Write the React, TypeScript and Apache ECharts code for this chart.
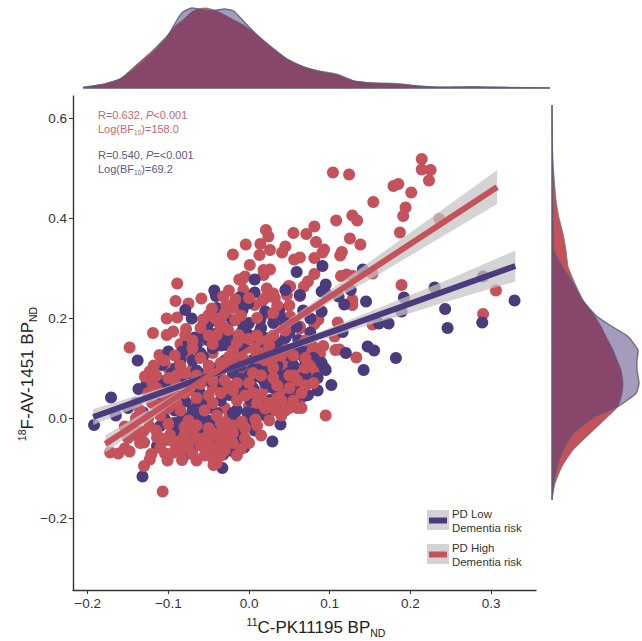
import React, { useEffect, useRef } from "react";
import * as echarts from "echarts";

const RED = "#C5525A";
const BLUE = "#4B3A7C";
const xTicks = [-0.2, -0.1, 0, 0.1, 0.2, 0.3];
const yTicks = [-0.2, 0, 0.2, 0.4, 0.6];

// PD High Dementia risk: points under the low-risk group
const highBack: number[][] = [
  [.104,.491],[.124,.487],[.214,.518],[.214,.497],[.225,.496],[.223,.475],[.179,.464],[.185,.468],[.201,.451],[.154,.432],
  [.194,.421],[.191,.404],[.187,.371],[.236,.398],[.108,.395],[.128,.405],[.134,.395],[.125,.359],[.138,.347],[.081,.383],
  [.071,.368],[.055,.37],[.083,.352],[.093,.337],[.091,.331],[.115,.332],[.113,.325],[.081,.32],[.063,.321],[.056,.317],
  [.114,.284],[.121,.287],[.129,.284],[.153,.289],[.081,.288],[.073,.273],[.068,.263],[.063,.245],[.051,.263],[.189,.266],
  [.306,.255],[.29,.208],[.128,.236],[.128,.226],[.11,.191],[.106,.163],[.153,.187],[.086,.197],[.081,.188],[.092,.144],
  [.088,.128],[.079,.143],[.078,.129],[.107,.136],[.112,.137],[.133,.121],[.08,.109],[.084,.101],[.063,.179],[.053,.109],
  [.059,.099],[.021,.376],[.024,.363],[-.004,.347],[.014,.348],[.013,.326],[.026,.336],[.045,.343],[.041,.331],[.001,.306],
  [.018,.296],[.026,.297],[.018,.286],[-.005,.283],[-.009,.276],[.022,.259],[.03,.249],[.032,.24],[.049,.264],[.047,.246],
  [.063,.244],[.016,.233],[.007,.226],[.024,.209],[-.007,.256],[.043,.189],[.051,.203],[-.003,.183],[.014,.176],[.063,.183],
  [-.02,.327],[-.089,.269],[-.091,.234],[-.075,.229],[-.059,.239],[-.102,.199],[-.089,.201],[-.119,.17],[-.102,.166],[-.094,.173],
  [-.012,.277],[-.148,.141],[-.111,.126],[.095,.005],[.064,.039],[.057,.053],[.074,.086],[.06,.097],[.049,.099],[.041,.113],
  [.053,.113],[.049,.069],[.036,.049],[-.06,.155],[-.03,.155],[.015,.15],[.04,.148],[-.085,.148],[-.075,.128],[-.045,.13],
  [-.01,.13],[.025,.128],[.06,.14],[-.1,.1],[-.07,.098],[-.035,.095],[-.005,.1],[.04,.095],[.065,.09],[-.105,.06],
  [-.075,.075],[-.045,.06],[-.01,.085],[.02,.06],[.045,.05],[-.105,.04],[-.07,.025],[-.03,.02],[0,.025],[.03,.015],
  [.06,.02],[-.125,0],[-.095,-.01],[-.06,-.005],[-.025,0],[.005,.005],
];

// PD Low Dementia risk
const lowScatter: number[][] = [
  [.091,.304],[.059,.292],[.141,.297],[.095,.267],[.09,.253],[.096,.248],[.126,.256],[.111,.243],[.118,.227],[.145,.233],
  [.192,.241],[.23,.261],[.189,.213],[.243,.218],[.246,.18],[.173,.189],[.161,.189],[.116,.172],[.29,.283],[.289,.191],
  [.329,.235],[.147,.143],[.155,.135],[.12,.13],[.182,.12],[.142,.096],[.094,.099],[.067,.215],[.076,.199],[.09,.213],
  [.059,.183],[.076,.171],[.061,.156],[.069,.119],[.059,.128],[.007,.277],[.007,.251],[.045,.256],[.063,.246],[-.009,.239],
  [-.001,.229],[-.008,.216],[.02,.213],[.038,.219],[.038,.206],[.014,.196],[-.007,.183],[-.001,.166],[.01,.166],[-.043,.255],
  [-.041,.244],[-.079,.216],[-.071,.199],[-.029,.205],[-.052,.179],[-.017,.226],[-.012,.241],[-.067,.161],[-.059,.163],[-.04,.169],
  [-.032,.161],[.095,.096],[.102,.066],[.078,.071],[.059,.079],[.038,.069],[.073,.046],[.057,.037],[.048,.029],[.026,.036],
  [.02,.031],[.033,.031],[.002,.035],[-.015,.016],[-.002,.011],[.01,.013],[.039,-.013],[.007,-.025],[.029,-.047],[-.013,-.036],
  [-.015,-.017],[-.006,-.059],[-.021,-.066],[-.032,-.073],[-.034,-.016],[-.036,-.044],[-.024,.046],[-.032,.066],[.018,.106],[.026,.089],
  [.018,.076],[.032,.083],[.005,.116],[.014,.096],[.01,.083],[-.011,.079],[-.017,.066],[-.007,.056],[.001,.069],[-.017,.139],
  [-.028,.146],[-.138,.115],[-.171,.041],[-.1,.133],[-.083,.133],[-.065,.146],[-.057,.123],[-.108,.106],[-.111,.075],[-.096,.089],
  [-.083,.086],[-.061,.089],[-.137,.058],[-.127,.069],[-.131,.011],[-.11,-.016],[-.092,.015],[-.081,-.001],[-.071,.006],[-.079,.033],
  [-.063,.033],[-.052,.036],[-.061,.051],[-.088,-.031],[-.071,-.041],[-.059,-.027],[-.04,-.021],[-.052,-.004],[-.114,-.056],[-.075,-.071],
  [-.069,-.057],[-.132,-.117],[-.192,-.014],[-.033,-.1],[-.06,.13],[-.045,.14],[-.03,.115],[-.015,.12],[-.035,.145],[-.005,.14],
  [.01,.15],[.03,.145],[.045,.16],[.02,.16],[0,.19],[.03,.19],[-.02,.195],[-.05,.19],[-.01,.17],[.065,.14],
  [.05,.125],[.035,.105],[.05,.09],[-.02,.09],[-.04,.1],[-.07,.07],[-.09,.05],[-.115,.03],[-.14,.03],[-.15,.02],
  [-.165,.005],[.03,.06],[.045,.07],[.015,.04],[-.035,.035],[-.06,.01],[-.045,-.01],[-.03,-.02],[0,-.01],[-.02,.01],
  [-.085,.012],[-.1,.025],[-.115,.055],[-.005,.065],[.005,.1],[.06,.06],[.07,.045],[.085,.08],[.09,.11],[.085,.055],
  [-.085,.115],[-.07,.115],[-.05,.155],[-.075,.15],[-.09,.1],[-.1,.06],[-.085,.07],[-.065,.095],[-.05,.075],[-.04,.08],
  [-.025,.105],[-.01,.105],[0,.085],[.01,.11],[.025,.12],[.04,.085],[.055,.105],[.07,.085],[.07,.11],[.08,.12],
  [.02,.07],[.005,.06],[-.015,.04],[-.03,.06],[-.05,.02],[-.07,.015],[-.09,-.01],[-.075,-.01],[-.06,-.04],[-.045,-.045],
  [-.03,-.035],[-.015,-.045],[-.08,-.05],[-.095,-.02],[-.105,0],[-.02,.16],[-.03,.18],[0,.165],[.015,.18],[.045,.19],
  [.02,.14],[-.04,.22],[.035,.15],[.05,.17],[-.06,-.01],[-.04,.01],[-.015,-.005],[.02,.005],[.035,.025],[.05,.04],
];

// PD High Dementia risk: points over the low-risk group
const highFront: number[][] = [
  [-.078,.178],[-.079,.166],[-.057,.197],[-.046,.219],[-.05,.206],[-.032,.243],[-.028,.226],[-.017,.237],[-.042,.199],[-.036,.186],
  [-.026,.176],[-.017,.196],[-.04,.166],[-.013,.166],[-.123,.093],[-.129,.083],[-.13,-.049],[-.154,-.017],[-.143,-.014],[-.145,-.027],
  [-.172,-.069],[-.162,-.071],[-.154,-.061],[-.148,-.067],[-.13,-.096],[-.121,-.072],[-.123,-.083],[-.104,-.071],[-.101,-.085],[-.107,-.147],
  [-.044,-.094],[-.083,-.084],[-.088,-.064],[-.114,-.039],[-.141,-.034],[-.131,-.027],[-.123,-.017],[-.098,-.034],[-.102,-.044],[-.094,-.047],
  [.032,.019],[.02,.019],[.008,-.003],[-.009,-.007],[-.026,-.021],[-.03,-.027],[-.036,-.041],[-.059,-.051],[-.046,-.064],[-.045,.148],
  [-.015,.15],[0,.158],[.03,.165],[-.07,.14],[-.092,.125],[-.06,.12],[-.025,.122],[.008,.135],[.045,.135],[.03,.12],
  [-.118,.105],[-.085,.105],[-.05,.105],[-.02,.108],[.02,.115],[.05,.085],[-.12,.07],[-.09,.065],[-.06,.068],[-.03,.075],
  [.005,.05],[.035,.065],[.07,.065],[-.12,.03],[-.09,.03],[-.045,.03],[-.015,.035],[.015,.045],[.045,.015],[-.135,.015],
  [-.11,.005],[-.1,-.012],[-.08,-.018],[-.04,.005],[-.01,-.01],[.025,-.005],[-.085,-.045],[-.07,-.025],[-.055,-.04],[-.045,-.03],
  [-.03,-.045],[-.02,-.03],[-.005,-.04],[.01,-.015],[.015,-.035],[-.075,-.06],[-.06,-.055],[-.05,-.065],[-.04,-.06],[-.03,-.052],
  [-.02,-.05],[-.045,-.08],[-.035,-.075],[-.09,-.055],[-.01,-.062],[-.065,-.085],[-.07,-.072],
  [-.105,.115],[-.115,.085],[-.1,.08],[-.08,.09],[-.065,.085],[-.05,.09],[-.035,.11],[-.02,.135],[-.005,.115],[.01,.12],
  [.025,.145],[.04,.125],[.055,.125],[.07,.12],[.075,.105],[.06,.075],[.05,.06],[.04,.035],[.055,.035],[.065,.02],
  [.04,.005],[.025,.03],[.01,.03],[-.005,.045],[-.02,.055],[-.035,.05],[-.05,.045],[-.065,.04],[-.08,.05],[-.095,.045],
  [-.11,.025],[-.125,.05],[-.14,0],[-.15,-.04],[-.135,-.05],[-.115,-.025],[-.11,-.06],[-.095,-.07],[-.08,-.035],[-.065,-.015],
  [-.05,-.02],[-.035,-.01],[-.02,-.015],[-.005,-.02],[0,-.05],[-.015,-.075],[-.03,-.065],[-.05,-.05],[-.065,-.04],[-.075,-.05],
  [-.085,-.07],[-.055,-.075],[-.04,-.09],[-.025,.06],[0,.07],[.015,.085],[.03,.1],[.015,.13],[-.01,.16],[-.03,.18],
  [-.05,.165],[-.07,.155],[-.06,.18],[-.035,.2],[-.01,.205],[.01,.2],[.03,.21],[.045,.175],[.07,.155],[-.02,.22],
  [0,.24],[.02,.24],[.035,.225],[.05,.225],[-.025,.255],[-.03,.21],
  [.07,.1],[.055,.085],[.08,.07],[.065,.05],[.05,.02],[.035,.04],[-.015,.07],[-.045,.075],[-.075,.055],[-.1,.02],
  [-.085,.015],[-.055,.015],[-.035,-.03],[-.075,-.005],[-.11,-.04],[.005,.09],[.03,.08],[-.115,.06],[-.09,.085],[.01,.165],
];

const highLine = [[-.178, -.052], [.3075, .462]];
const lowLine = [[-.193, .002], [.33, .304]];

const highBandX = [-.178, -.1, -.05, 0, .05, .1, .15, .2, .25, .3075];
const highBandUpper = [-.035, .04, .091, .143, .198, .255, .313, .371, .429, .496];
const highBandLower = [-.069, .022, .077, .131, .182, .231, .277, .325, .373, .428];
const lowBandX = [-.193, -.1, -.05, 0, .05, .1, .15, .2, .25, .33];
const lowBandUpper = [.018, .064, .091, .119, .149, .18, .213, .246, .279, .335];
const lowBandLower = [-.014, .046, .077, .107, .135, .162, .187, .21, .235, .273];

// marginal densities along x
const topX = [-.205, -.181, -.16, -.14, -.119, -.102, -.09, -.082, -.071, -.063, -.053, -.04, -.03, -.019, -.007, .01, .026, .047, .068, .088, .109, .13, .151, .171, .192, .213, .234, .275, .316, .373];
const topLow = [.7, 3.3, 9, 20, 35, 50, 67, 76, 80, 79, 77, 78, 79, 77, 67, 53, 42, 29, 21, 16, 13, 7, 5, 4, 3, 1.7, .7, 1.3, .7, 0];
const topHigh = [.7, 4, 9, 23, 38, 52, 63, 68, 76, 79, 80, 77, 73, 68, 63, 53, 42, 29, 21, 17, 14, 7, 5, 5, 4, 1.7, 1, .7, .3, 0];

// marginal densities along y
const rightY = [.626, .549, .503, .436, .403, .369, .336, .303, .269, .236, .203, .183, .163, .136, .116, .096, .069, .049, .023, .003, -.031, -.064, -.097, -.131, -.164];
const rightLow = [0, .3, .5, .7, .8, 1.2, 1.5, 10, 21, 30, 45, 60, 76, 86, 85, 85, 87, 84, 66, 43, 21, 11, 5, 1.3, 0];
const rightHigh = [0, .3, 1.3, 4, 6.7, 11, 14, 16, 23, 31, 43, 49, 54, 61, 65, 69, 71, 70, 66, 56, 38, 21, 10, 3, 0];

const zip = (a: number[], b: number[]) => a.map((v, i) => [v, b[i]]);

function polygonSeries(pts: number[][], xi: number, yi: number, z: number, style: any, smooth = 0) {
  return {
    type: "custom",
    xAxisIndex: xi,
    yAxisIndex: yi,
    z,
    silent: true,
    clip: false,
    encode: { x: 0, y: 1 },
    data: pts,
    renderItem: (params: any, api: any) => {
      if (params.dataIndex !== 0) return null;
      return {
        type: "polygon",
        shape: { points: pts.map((p) => api.coord(p)), smooth },
        style,
      };
    },
  };
}

function band(xs: number[], up: number[], lo: number[], z: number) {
  const pts = [...zip(xs, up), ...zip(xs, lo).reverse()];
  return polygonSeries(pts, 0, 0, z, { fill: "rgba(195,195,195,0.72)" });
}

const scatter = (data: number[][], color: string, z: number) => ({
  type: "scatter",
  data,
  symbolSize: 12,
  z,
  silent: true,
  itemStyle: { color, opacity: 1 },
});

const line = (data: number[][], color: string, z: number) => ({
  type: "line",
  data,
  z,
  silent: true,
  showSymbol: false,
  symbol: "none",
  lineStyle: { color, width: 6, cap: "butt" },
});

const FONT = "'Liberation Sans', Arial, sans-serif";
const minusFmt = (d: number) => (v: number) => (v < 0 ? "\u2212" : "") + Math.abs(v).toFixed(d);

const note = (top: number, color: string, first: string, second: string) => ({
  type: "text",
  x: 98,
  y: top,
  silent: true,
  style: {
    text: `${first}\n${second}`,
    fill: color,
    font: `11px ${FONT}`,
    lineHeight: 13.5,
    rich: {
      i: { fontStyle: "italic", fontFamily: "Liberation Sans", fontSize: 11, fill: color, lineHeight: 13.5 },
      s: { fontFamily: "Liberation Sans", fontSize: 6.5, fill: color, lineHeight: 13.5, verticalAlign: "bottom" },
    },
  },
});

const legendKey = (y: number, color: string, l1: string, l2: string) => [
  { type: "rect", silent: true, shape: { x: 427, y, width: 22, height: 20 }, style: { fill: "#D3D3D5" } },
  { type: "rect", silent: true, shape: { x: 429, y: y + 7.5, width: 18, height: 6 }, style: { fill: color } },
  {
    type: "text",
    x: 452,
    y: y - 3,
    silent: true,
    style: { text: `${l1}\n${l2}`, fill: "#333", font: `11.4px ${FONT}`, lineHeight: 14 },
  },
];

const titleRich = {
  sup: { fontFamily: "Liberation Sans", fontSize: 10.5, fill: "#222", lineHeight: 22, verticalAlign: "top" },
  n: { fontFamily: "Liberation Sans", fontSize: 17, fill: "#222", lineHeight: 22 },
  sub: { fontFamily: "Liberation Sans", fontSize: 10.5, fill: "#222", lineHeight: 22, verticalAlign: "bottom" },
};

const axisTitle = (x: number, y: number, rotation: number, text: string) => ({
  type: "text",
  x,
  y,
  rotation,
  silent: true,
  style: { text, align: "center", verticalAlign: "middle", rich: titleRich, font: `17px ${FONT}`, fill: "#222" },
});

export default function App() {
  const ref = useRef<HTMLDivElement>(null);
  useEffect(() => {
    document.body.style.margin = "0";
    const chart = echarts.init(ref.current!, undefined, { renderer: "svg" });
    const axisLine = { show: true, onZero: false, lineStyle: { color: "#333", width: 1.4 } };
    const axisTick = { show: true, length: 4, lineStyle: { color: "#333", width: 1 } };
    const hidden = { show: false };
    chart.setOption({
      animation: false,
      backgroundColor: "#fff",
      grid: [
        { left: 73, top: 96, width: 463, height: 494 },
        { left: 73, top: 8, width: 463, height: 80 },
        { left: 552, top: 96, width: 88, height: 494 },
      ],
      xAxis: [
        {
          type: "value",
          gridIndex: 0,
          min: -0.2181,
          max: 0.3556,
          splitLine: hidden,
          axisLine,
          axisTick: { ...axisTick, customValues: xTicks },
          axisLabel: {
            customValues: xTicks,
            formatter: minusFmt(1),
            color: "#333",
            fontFamily: "Liberation Sans",
            fontSize: 13.5,
            margin: 6,
          },
        },
        { type: "value", gridIndex: 1, min: -0.2181, max: 0.3556, show: false },
        { type: "value", gridIndex: 2, min: 0, max: 88, show: false },
      ],
      yAxis: [
        {
          type: "value",
          gridIndex: 0,
          min: -0.344,
          max: 0.644,
          splitLine: hidden,
          axisLine,
          axisTick: { ...axisTick, customValues: yTicks },
          axisLabel: {
            customValues: yTicks,
            formatter: minusFmt(1),
            color: "#333",
            fontFamily: "Liberation Sans",
            fontSize: 13.5,
            margin: 6,
          },
        },
        { type: "value", gridIndex: 1, min: 0, max: 80, show: false },
        { type: "value", gridIndex: 2, min: -0.344, max: 0.644, show: false },
      ],
      series: [
        scatter(highBack, RED, 2),
        scatter(lowScatter, BLUE, 3),
        scatter(highFront, RED, 4),
        band(lowBandX, lowBandUpper, lowBandLower, 5),
        band(highBandX, highBandUpper, highBandLower, 5),
        line(lowLine, BLUE, 6),
        line(highLine, RED, 7),
        polygonSeries(
          [[topX[0], 0], ...zip(topX, topHigh), [topX[topX.length - 1], 0]],
          1, 1, 2,
          { fill: RED, stroke: "rgba(110,115,105,0.8)", lineWidth: 1 },
          0.15,
        ),
        polygonSeries(
          [[topX[0], 0], ...zip(topX, topLow), [topX[topX.length - 1], 0]],
          1, 1, 3,
          { fill: "rgba(75,58,124,0.5)", stroke: "rgba(95,90,115,0.85)", lineWidth: 1.4 },
          0.15,
        ),
        polygonSeries(
          [[0, rightY[0]], ...zip(rightHigh, rightY), [0, rightY[rightY.length - 1]]],
          2, 2, 2,
          { fill: RED, stroke: "rgba(110,115,105,0.8)", lineWidth: 1 },
          0.15,
        ),
        polygonSeries(
          [[0, rightY[0]], ...zip(rightLow, rightY), [0, rightY[rightY.length - 1]]],
          2, 2, 3,
          { fill: "rgba(75,58,124,0.5)", stroke: "rgba(95,90,115,0.85)", lineWidth: 1.4 },
          0.15,
        ),
      ],
      graphic: [
        note(108.5, "#C8666E", "R=0.632, {i|P}<0.001", "Log(BF{s|10})=158.0"),
        note(148.5, "#5B5885", "R=0.540, {i|P}=<0.001", "Log(BF{s|10})=69.2"),
        ...legendKey(510, BLUE, "PD Low", "Dementia risk"),
        ...legendKey(544, RED, "PD High", "Dementia risk"),
        axisTitle(316, 627, 0, "{sup|11}{n|C-PK11195 BP}{sub|ND}"),
        axisTitle(27, 374, Math.PI / 2, "{sup|18}{n|F-AV-1451 BP}{sub|ND}"),
      ],
    });
    return () => chart.dispose();
  }, []);
  return <div ref={ref} style={{ width: 642, height: 641, position: "absolute", left: 0, top: 0 }} />;
}
